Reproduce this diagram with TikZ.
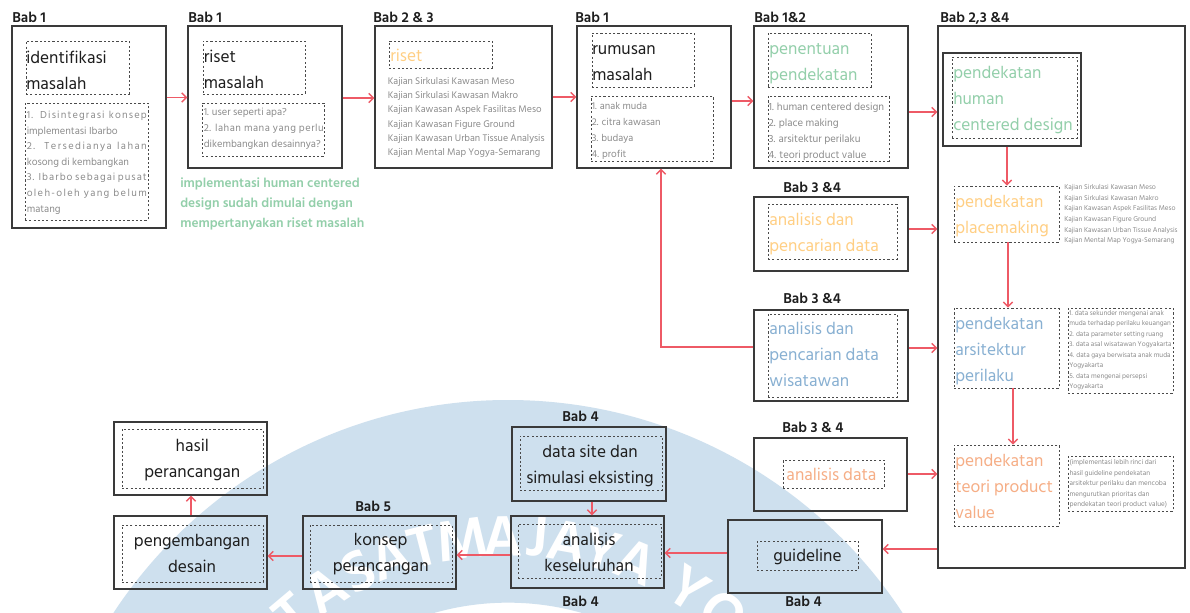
\documentclass[tikz,border=0pt]{standalone}
\usepackage{fontspec}
\setmainfont{Hind Siliguri}
\usetikzlibrary{arrows.meta,fit}

\definecolor{edgec}{HTML}{3A3A3A}
\definecolor{dashc}{HTML}{4A4A4A}
\definecolor{ink}{HTML}{1E1E1E}
\definecolor{note}{HTML}{8C8C8C}
\definecolor{hcd}{HTML}{93CFAA}
\definecolor{plc}{HTML}{FFCF84}
\definecolor{beh}{HTML}{88B0D2}
\definecolor{val}{HTML}{F6AE86}
\definecolor{flow}{HTML}{EE5A66}
\definecolor{sealblue}{HTML}{CEE0EE}

\newcommand\fsz[2]{\fontsize{#1}{#2}\selectfont}
% a line stretched to a given width, letters spread a little first
\newcommand\jline[3]{\makebox[#1][s]{\addfontfeature{LetterSpace=#2}#3}}

\tikzset{
  boxed/.style={draw=edgec, line width=1.1pt, inner sep=0pt},
  dbox/.style={draw=dashc, line width=0.7pt, dash pattern=on 1.6pt off 1.6pt, inner sep=0pt},
  link/.style={draw=flow, line width=1.1pt, -{Straight Barb[length=3.4pt,width=7pt]}},
  bab/.style={font=\bfseries\fsz{11}{13}, text=ink, inner sep=0pt, anchor=base west},
  head/.style={font=\fsz{13}{19.5}, text=ink, inner sep=0pt, anchor=north west, align=left,
    execute at begin node=\strut},
  headc/.style={head, anchor=north, align=center},
  small/.style={font=\fsz{7.8}{11.7}, text=note, inner sep=0pt, anchor=north west, align=left,
    execute at begin node=\strut},
  seal/.style={text=white, inner sep=0pt, font=\bfseries\fsz{44}{44}},
}

\begin{document}
\begin{tikzpicture}[x=0.75pt, y=-0.75pt]
\useasboundingbox (0,0) rectangle (1190,613);
\fill[white] (0,0) rectangle (1190,613);

% ---------- faint seal behind the lower row ----------
\coordinate (sealc) at (508,872);
\fill[fill=sealblue, even odd rule] (sealc) circle[radius=354pt] (sealc) circle[radius=202pt];
\foreach \ch/\ang in {T/130,A/123,S/116.5,A/110.5,T/104.6,M/97.8,A/90.8,J/85,A/79.8,Y/73.8,A/67.6,Y/57.4,O/50.2}
  \node[seal, rotate=\ang-90] at ([shift={(sealc)}]\ang:252pt) {\ch};

% ---------- top row ----------
\node[bab] (l1) at (12,23) {Bab 1};
\node[boxed, fit={(12,26)(166,228)}] (idf) {};
\node[dbox, fit={(26,41)(129,94)}] (idfT) {};
\node[dbox, fit={(25,103)(148,220)}] (idfL) {};
\node[head] (idfTt) at (26,50.8) {identifikasi\\masalah};
\node[small] (idfLt) at (26.5,110.8) {\jline{90pt}{11}{1. Disintegrasi konsep}\\implementasi Ibarbo\\
  \jline{90pt}{14}{2. Tersedianya lahan}\\kosong di kembangkan\\\jline{90pt}{10}{3. Ibarbo sebagai pusat}\\
  \jline{90pt}{13}{oleh-oleh yang belum}\\matang};

\node[bab] (l2) at (188,23) {Bab 1};
\node[boxed, fit={(188,26)(342,168)}] (ris) {};
\node[dbox, fit={(203,41)(305,94)}] (risT) {};
\node[dbox, fit={(202,103)(324,156)}] (risL) {};
\node[head] (risTt) at (203.5,49.8) {riset\\masalah};
\node[small, font=\fsz{7.8}{12}] (risLt) at (203.5,107.8) {1. user seperti apa?\\
  \jline{90pt}{5}{2. lahan mana yang perlu}\\dikembangkan desainnya?};

\node[font=\bfseries\fsz{10}{15}, text=hcd, inner sep=0pt, anchor=north west, align=left,
  execute at begin node=\strut] (cap) at (180,177.7)
  {implementasi human centered\\design sudah dimulai dengan\\mempertanyakan riset masalah};

\node[bab] (l3) at (373,23) {Bab 2 \& 3};
\node[boxed, fit={(375,26)(552,168)}] (kaj) {};
\node[dbox, fit={(389,41)(492,68)}] (kajT) {};
\node[head, text=plc] (kajTt) at (390,43.5) {riset};
\node[small, font=\fsz{7.4}{10.6}] (kajLt) at (387.5,77.3) {Kajian Sirkulasi Kawasan Meso\\
  Kajian Sirkulasi Kawasan Makro\\Kajian Kawasan Aspek Fasilitas Meso\\Kajian Kawasan Figure Ground\\
  Kajian Kawasan Urban Tissue Analysis\\Kajian Mental Map Yogya-Semarang};

\node[bab] (l4) at (575,23) {Bab 1};
\node[boxed, fit={(577,26)(731,168)}] (rum) {};
\node[dbox, fit={(592,33)(694,87)}] (rumT) {};
\node[dbox, fit={(591,96)(713,161)}] (rumL) {};
\node[head] (rumTt) at (592,45.8) {rumusan\\masalah};
\node[small, font=\fsz{7.6}{12}] (rumLt) at (591.7,102.1) {1. anak muda\\2. citra kawasan\\3. budaya\\4. profit};

\node[bab] (l5) at (754,23) {Bab 1\&2};
\node[boxed, fit={(754,26)(908,168)}] (pen) {};
\node[dbox, fit={(768,33)(871,87)}] (penT) {};
\node[dbox, fit={(768,96)(889,161)}] (penL) {};
\node[head, text=hcd] (penTt) at (769,42.8) {penentuan\\pendekatan};
\node[small, font=\fsz{8}{12}] (penLt) at (768.3,102.1) {1. human centered design\\2. place making\\
  3. arsitektur perilaku\\4. teori product value};

% ---------- approach column ----------
\node[bab] (l6) at (940,23) {Bab 2,3 \&4};
\node[boxed, fit={(938,26)(1185,568)}] (apr) {};
\node[boxed, fit={(943,53)(1081,146)}] (hcdB) {};
\node[dbox, fit={(952,57)(1077,138)}] (hcdD) {};
\node[head, text=hcd] (hcdT) at (953,65.8) {pendekatan\\human\\centered design};

\node[dbox, fit={(954,186)(1059,242)}] (plcD) {};
\node[head, text=plc] (plcT) at (955,194.8) {pendekatan\\placemaking};
\node[small, font=\fsz{5.35}{7.95}] (plcS) at (1064,184.4) {Kajian Sirkulasi Kawasan Meso\\
  Kajian Sirkulasi Kawasan Makro\\Kajian Kawasan Aspek Fasilitas Meso\\Kajian Kawasan Figure Ground\\
  Kajian Kawasan Urban Tissue Analysis\\Kajian Mental Map Yogya-Semarang};

\node[dbox, fit={(954,308)(1059,388)}] (behD) {};
\node[head, text=beh] (behT) at (955,317.1) {pendekatan\\arsitektur\\perilaku};
\node[dbox, fit={(1068,308)(1173,393)}] (behS) {};
\node[small, font=\fsz{5.25}{7.9}] (behSt) at (1069,309.9) {1. data sekunder mengenai anak\\
  muda terhadap perilaku keuangan\\2. data parameter setting ruang\\3. data asal wisatawan Yogyakarta\\
  4. data gaya berwisata anak muda\\Yogyakarta\\5. data mengenai persepsi\\Yogyakarta};

\node[dbox, fit={(954,445)(1059,526)}] (valD) {};
\node[head, text=val] (valT) at (955,453.8) {pendekatan\\teori product\\value};
\node[dbox, fit={(1068,456)(1173,511)}] (valS) {};
\node[small, font=\fsz{5.3}{7.8}] (valSt) at (1069.3,459.5) {(implementasi lebih rinci dari\\
  hasil guideline pendekatan\\arsitektur perilaku dan mencoba\\mengurutkan prioritas dan\\
  pendekatan teori product value)};

% ---------- analysis column ----------
\node[bab] (l7) at (783,192.7) {Bab 3 \&4};
\node[boxed, fit={(754,197)(908,271)}] (an1) {};
\node[dbox, fit={(768,204)(897,259)}] (an1D) {};
\node[head, text=plc] (an1T) at (769,212.8) {analisis dan\\pencarian data};

\node[bab] (l8) at (783,304) {Bab 3 \&4};
\node[boxed, fit={(754,310)(908,401)}] (an2) {};
\node[dbox, fit={(768,314)(897,397)}] (an2D) {};
\node[head, text=beh] (an2T) at (769,322.1) {analisis dan\\pencarian data\\wisatawan};

\node[bab] (l9) at (782,432.3) {Bab 3 \& 4};
\node[boxed, fit={(754,438)(907,511)}] (an3) {};
\node[dbox, fit={(783,460)(884,488)}] (an3D) {};
\node[headc, text=val] (an3T) at (831.5,462.5) {analisis data};

% ---------- bottom row ----------
\node[boxed, fit={(728,520)(882,593)}] (gdl) {};
\node[dbox, fit={(757,541)(858,570)}] (gdlD) {};
\node[headc] (gdlT) at (807.5,543.5) {guideline};
\node[bab] (l10) at (785,606.7) {Bab 4};

\node[bab] (l11) at (562,421.7) {Bab 4};
\node[boxed, fit={(512,427)(666,501)}] (site) {};
\node[dbox, fit={(520,436)(662,490)}] (siteD) {};
\node[headc] (siteT) at (590,445.1) {data site dan\\simulasi eksisting};

\node[boxed, fit={(511,516)(664,588)}] (ovr) {};
\node[dbox, fit={(518,524)(661,578)}] (ovrD) {};
\node[headc] (ovrT) at (589,532.8) {analisis\\keseluruhan};
\node[bab] (l12) at (562,606.7) {Bab 4};

\node[bab] (l13) at (355,511.7) {Bab 5};
\node[boxed, fit={(303,516)(456,589)}] (kon) {};
\node[dbox, fit={(310,525)(452,582)}] (konD) {};
\node[headc] (konT) at (380.7,533.5) {konsep\\perancangan};

\node[boxed, fit={(114,516)(267,589)}] (dev) {};
\node[dbox, fit={(122,525)(263,582)}] (devD) {};
\node[headc] (devT) at (192,533.5) {pengembangan\\desain};

\node[boxed, fit={(114,422)(267,495)}] (res) {};
\node[dbox, fit={(122,429)(263,488)}] (resD) {};
\node[headc] (resT) at (192.3,438.8) {hasil\\perancangan};

% ---------- connectors ----------
\draw[link] (idf.east |- 0,97.5) -- (ris.west |- 0,97.5);
\draw[link] (ris.east |- 0,98) -- (kaj.west |- 0,98);
\draw[link] (kaj.east |- 0,97) -- (rum.west |- 0,97);
\draw[link] (rum.east |- 0,101) -- (pen.west |- 0,101);
\draw[link] (pen.east |- 0,112) -- (apr.west |- 0,112);
\draw[link] (an1.east |- 0,229) -- (apr.west |- 0,229);
\draw[link] (an2.east |- 0,348) -- (apr.west |- 0,348);
\draw[link] (an3.east |- 0,474) -- (apr.west |- 0,474);
\draw[link] (an2.west |- 0,347) -| (661,0 |- rum.south);
\draw[link] (hcdB.south -| 1007,0) -- (plcD.north -| 1007,0);
\draw[link] (plcD.south -| 1008,0) -- (behD.north -| 1008,0);
\draw[link] (behD.south -| 1013,0) -- (valD.north -| 1013,0);
\draw[link] (apr.west |- 0,549) -- (gdl.east |- 0,549);
\draw[link] (gdl.west |- 0,553) -- (ovr.east |- 0,553);
\draw[link] (site.south -| 592,0) -- (ovr.north -| 592,0);
\draw[link] (ovr.west |- 0,555) -- (kon.east |- 0,555);
\draw[link] (kon.west |- 0,556) -- (dev.east |- 0,556);
\draw[link] (dev.north -| 191,0) -- (res.south -| 191,0);
\end{tikzpicture}
\end{document}
